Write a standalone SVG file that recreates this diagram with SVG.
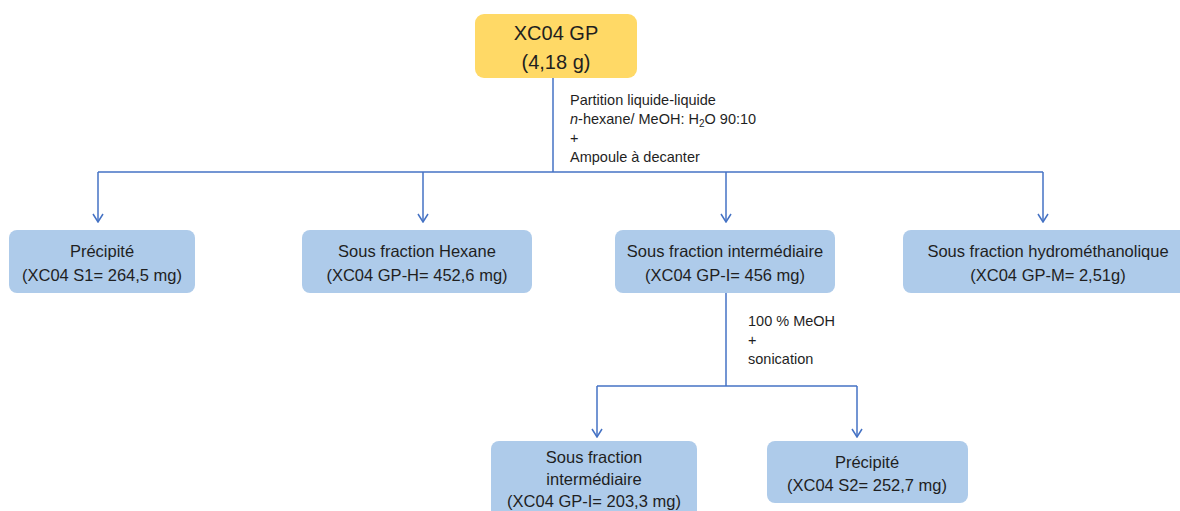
<svg xmlns="http://www.w3.org/2000/svg" width="1180" height="511" viewBox="0 0 1180 511">
<defs>
<style>
.box{fill:#AECBEA;}
.root{fill:#FFD966;}
.t{font-family:"Liberation Sans",Arial,sans-serif;font-size:16.5px;fill:#1f1f1f;text-anchor:middle;}
.tr{font-family:"Liberation Sans",Arial,sans-serif;font-size:20px;fill:#1f1f1f;text-anchor:middle;}
.lab{font-family:"Liberation Sans",Arial,sans-serif;font-size:14.5px;fill:#1f1f1f;}
.c{fill:none;stroke:#4472C4;stroke-width:1.5;}
</style>
<marker id="arr" viewBox="0 0 10 12" refX="9" refY="6" markerWidth="10" markerHeight="12" markerUnits="userSpaceOnUse" orient="auto">
<path d="M1,1 L9,6 L1,11" fill="none" stroke="#4472C4" stroke-width="1.5"/>
</marker>
</defs>
<rect width="1180" height="511" fill="#ffffff"/>
<g id="connectors">
<path class="c" d="M553,78 V172"/>
<path class="c" d="M98,172 H1043"/>
<path class="c" d="M98,172 V222" marker-end="url(#arr)"/>
<path class="c" d="M423,172 V222" marker-end="url(#arr)"/>
<path class="c" d="M726,172 V222" marker-end="url(#arr)"/>
<path class="c" d="M1043,172 V222" marker-end="url(#arr)"/>
<path class="c" d="M726,293 V386"/>
<path class="c" d="M597,386 H857"/>
<path class="c" d="M597,386 V437" marker-end="url(#arr)"/>
<path class="c" d="M857,386 V437" marker-end="url(#arr)"/>
<text class="lab" x="570" y="105">Partition liquide-liquide</text>
<text class="lab" x="570" y="124"><tspan font-style="italic">n</tspan>-hexane/ MeOH: H<tspan font-size="10" dy="3">2</tspan><tspan dy="-3">O 90:10</tspan></text>
<text class="lab" x="570" y="143">+</text>
<text class="lab" x="570" y="162">Ampoule à decanter</text>
<text class="lab" x="748" y="326">100 % MeOH</text>
<text class="lab" x="748" y="345">+</text>
<text class="lab" x="748" y="364">sonication</text>
</g>
<g id="root">
<rect class="root" x="475" y="14" width="162" height="64" rx="9"/>
<text class="tr" x="556" y="40">XC04 GP</text>
<text class="tr" x="556" y="69">(4,18 g)</text>
</g>
<g id="precipite1">
<rect class="box" x="9" y="230" width="186" height="63" rx="8"/>
<text class="t" x="102" y="257">Précipité</text>
<text class="t" x="102" y="281">(XC04 S1= 264,5 mg)</text>
</g>
<g id="hexane">
<rect class="box" x="302" y="230" width="230" height="63" rx="8"/>
<text class="t" x="417" y="257">Sous fraction Hexane</text>
<text class="t" x="417" y="281">(XC04 GP-H= 452,6 mg)</text>
</g>
<g id="intermediaire">
<rect class="box" x="615" y="230" width="220" height="63" rx="8"/>
<text class="t" x="725" y="257">Sous fraction intermédiaire</text>
<text class="t" x="725" y="281">(XC04 GP-I= 456 mg)</text>
</g>
<g id="hydromethanolique">
<rect class="box" x="903" y="230" width="285" height="63" rx="8"/>
<text class="t" x="1048" y="257">Sous fraction hydrométhanolique</text>
<text class="t" x="1048" y="281">(XC04 GP-M= 2,51g)</text>
</g>
<g id="intermediaire2">
<rect class="box" x="491" y="441" width="206" height="80" rx="8"/>
<text class="t" x="594" y="463">Sous fraction</text>
<text class="t" x="594" y="485">intermédiaire</text>
<text class="t" x="594" y="507">(XC04 GP-I= 203,3 mg)</text>
</g>
<g id="precipite2">
<rect class="box" x="767" y="441" width="201" height="62" rx="8"/>
<text class="t" x="867" y="468">Précipité</text>
<text class="t" x="867" y="491">(XC04 S2= 252,7 mg)</text>
</g>
</svg>
